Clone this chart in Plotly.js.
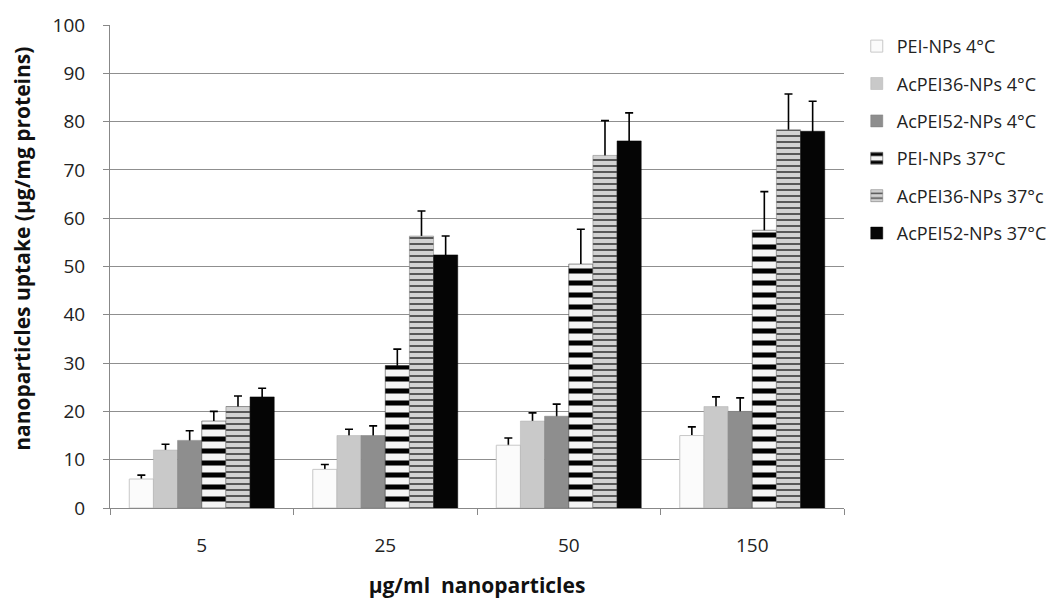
<!DOCTYPE html>
<html>
<head>
<meta charset="utf-8">
<script src="https://cdn.plot.ly/plotly-3.0.1.min.js"></script>
<style>html,body{margin:0;padding:0;background:#fff;}#chart{width:1063px;height:608px;}</style>
</head>
<body>
<div id="chart"></div>
<script>
const categories = ["5", "25", "50", "150"];
const seriesNames = ["PEI-NPs 4°C", "AcPEI36-NPs 4°C", "AcPEI52-NPs 4°C", "PEI-NPs 37°C", "AcPEI36-NPs 37°c", "AcPEI52-NPs 37°C"];
const peiNps4 = [6, 8, 13, 15];
const acPei36Nps4 = [12, 15, 18, 21];
const acPei52Nps4 = [14, 15, 19, 20];
const peiNps37 = [18, 29.5, 50.5, 57.5];
const acPei36Nps37 = [21, 56.3, 73, 78.3];
const acPei52Nps37 = [23, 52.4, 76, 78];
const errPeiNps4 = [0.8, 1, 1.5, 1.8];
const errAcPei36Nps4 = [1.2, 1.3, 1.7, 2];
const errAcPei52Nps4 = [2, 2, 2.5, 2.8];
const errPeiNps37 = [2, 3.4, 7.2, 8];
const errAcPei36Nps37 = [2.2, 5.2, 7.2, 7.4];
const errAcPei52Nps37 = [1.8, 3.9, 5.8, 6.2];
const xTitle = "μg/ml  nanoparticles";
const yTitle = "nanoparticles uptake (μg/mg proteins)";

const values = [peiNps4, acPei36Nps4, acPei52Nps4, peiNps37, acPei36Nps37, acPei52Nps37];
const errors = [errPeiNps4, errAcPei36Nps4, errAcPei52Nps4, errPeiNps37, errAcPei36Nps37, errAcPei52Nps37];

const styles = [
  {color: "#fbfbfb", line: {color: "#c8c8c8", width: 1}},
  {color: "#c9c9c9", line: {color: "#b0b0b0", width: 0.5}},
  {color: "#8e8e8e", line: {color: "#7a7a7a", width: 0.5}},
  {color: "#ffffff", line: {color: "#222", width: 0.5}, pattern: {shape: "-", fgcolor: "#000000", bgcolor: "#f4f4f4", size: 12, solidity: 0.42, fillmode: "replace"}},
  {color: "#cfcfcf", line: {color: "#777", width: 0.5}, pattern: {shape: "-", fgcolor: "#4a4a4a", bgcolor: "#d2d2d2", size: 6, solidity: 0.3, fillmode: "replace"}},
  {color: "#050505", line: {color: "#000", width: 0.5}}
];

// error bars on the base subplot (drawn underneath), lower half hidden by the bars above
const errorTraces = seriesNames.map((name, i) => ({
  type: "bar",
  name: name + " err",
  x: categories,
  y: values[i],
  xaxis: "x", yaxis: "y",
  showlegend: false,
  hoverinfo: "skip",
  marker: {color: "rgba(0,0,0,0)", line: {width: 0}},
  error_y: {type: "data", array: errors[i], visible: true, color: "#000", thickness: 1.6, width: 4}
}));

// visible bars on the overlaying subplot (drawn on top)
const barTraces = seriesNames.map((name, i) => ({
  type: "bar",
  name: name,
  x: categories,
  y: values[i],
  xaxis: "x2", yaxis: "y2",
  legendgroup: "g" + i,
  marker: styles[i]
}));

const layout = {
  width: 1063,
  height: 608,
  margin: {l: 110, r: 218, t: 25, b: 100},
  paper_bgcolor: "#ffffff",
  plot_bgcolor: "#ffffff",
  barmode: "group",
  bargap: 0.21,
  bargroupgap: 0,
  showlegend: true,
  font: {family: "Open Sans, sans-serif", color: "#222"},
  legend: {
    x: 1.016, xanchor: "left", y: 0.994, yanchor: "top",
    font: {size: 18, family: "Open Sans, sans-serif", color: "#222"},
    tracegroupgap: 11,
    traceorder: "grouped",
    itemwidth: 30
  },
  xaxis: {
    type: "category",
    showline: true, linecolor: "#888", linewidth: 1,
    ticks: "outside", tickson: "boundaries", ticklen: 6, tickcolor: "#888",
    tickfont: {size: 19, color: "#222"},
    ticklabelstandoff: 20,
    title: {text: "<b>" + xTitle + "</b>", font: {size: 21, color: "#111"}, standoff: 21},
    showgrid: false
  },
  yaxis: {
    range: [0, 100],
    dtick: 10,
    showline: true, linecolor: "#888", linewidth: 1,
    ticks: "outside", ticklen: 6, tickcolor: "#888",
    tickfont: {size: 19, color: "#222"},
    ticklabelstandoff: 14,
    showgrid: true, gridcolor: "#8f8f8f", gridwidth: 1,
    zeroline: false
  },
  xaxis2: {
    type: "category", overlaying: "x", matches: "x", visible: false, showgrid: false
  },
  yaxis2: {
    range: [0, 100], overlaying: "y", visible: false, showgrid: false, zeroline: false
  },
  annotations: [{
    text: "<b>" + yTitle + "</b>",
    textangle: -90,
    xref: "paper", yref: "paper",
    x: -0.121, y: 0.537,
    xanchor: "center", yanchor: "middle",
    showarrow: false,
    font: {size: 21, color: "#111", family: "Open Sans, sans-serif"}
  }]
};

Plotly.newPlot("chart", errorTraces.concat(barTraces), layout, {displayModeBar: false, staticPlot: true});
</script>
</body>
</html>
